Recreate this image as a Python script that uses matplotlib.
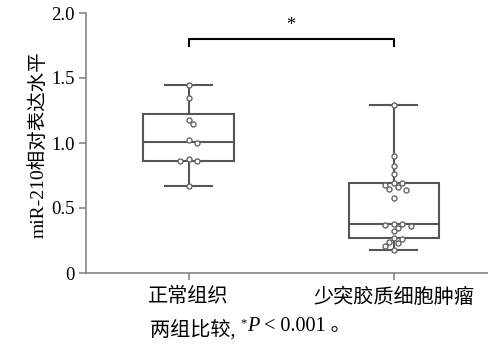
import matplotlib
matplotlib.use("Agg")
import matplotlib.pyplot as plt
import numpy as np

plt.rcParams['font.family'] = ['Liberation Serif', 'Noto Sans CJK SC']

categories = ["正常组织", "少突胶质细胞肿瘤"]
normal_vals = [1.45, 1.35, 1.18, 1.15, 1.02, 1.00, 0.88, 0.86, 0.86, 0.67]
tumor_vals = [1.29, 0.90, 0.82, 0.76, 0.69, 0.69, 0.68, 0.66, 0.65, 0.64, 0.58,
              0.38, 0.38, 0.37, 0.36, 0.35, 0.32, 0.27, 0.26, 0.24, 0.23, 0.21, 0.18]
yticks = [0, 0.5, 1.0, 1.5, 2.0]
yticklabels = ["0", "0.5", "1.0", "1.5", "2.0"]
ylabel = "miR-210相对表达水平"
sig_label = "*"

groups = [normal_vals, tumor_vals]

W, H, DPI = 4.88, 3.47, 100
fig = plt.figure(figsize=(W, H), dpi=DPI)
ax = fig.add_axes([86/488, 1-273/347, 1-86/488, (273-13)/347])

xlim = (-0.5, 1.46)
ylim = (0, 2.0)
ax.set_xlim(*xlim)
ax.set_ylim(*ylim)

# box stats (SPSS-style weighted quantiles)
stats = []
for vals, lab in zip(groups, categories):
    a = np.array(vals)
    q1, med, q3 = np.percentile(a, [25, 50, 75], method='weibull')
    stats.append(dict(med=med, q1=q1, q3=q3, whislo=a.min(), whishi=a.max(),
                      fliers=[], label=lab))

gray = "#555555"
ax.bxp(stats, positions=[0, 1], widths=0.44, capwidths=0.23, patch_artist=True,
       boxprops=dict(facecolor='white', edgecolor=gray, linewidth=1.5),
       medianprops=dict(color=gray, linewidth=1.5),
       whiskerprops=dict(color=gray, linewidth=1.5),
       capprops=dict(color=gray, linewidth=1.5),
       showfliers=False, zorder=2)

# simple swarm placement in pixel space
ax_w_px = W * DPI * (1 - 86/488)
ax_h_px = (273 - 13)
px_x = (xlim[1] - xlim[0]) / ax_w_px
px_y = (ylim[1] - ylim[0]) / ax_h_px
sep = 5.0
for pos, vals in enumerate(groups):
    placed = []
    for v in vals:
        cands = [0]
        for i in range(1, 20):
            cands += [i, -i]
        for c in cands:
            xo = c * sep * 0.85
            ok = True
            for (px, py) in placed:
                dy = (v - py) / px_y
                if (xo - px) ** 2 + dy ** 2 < sep ** 2:
                    ok = False
                    break
            if ok:
                placed.append((xo, v))
                break
    xs = [pos + p[0] * px_x for p in placed]
    ys = [p[1] for p in placed]
    ax.scatter(xs, ys, s=13, facecolors='white', edgecolors='#666666',
               linewidths=1.0, zorder=3)

# significance bracket
ax.plot([0, 0, 1, 1], [1.75, 1.80, 1.80, 1.75], color='black', lw=1.5,
        clip_on=False, zorder=4)
ax.text(0.5, 1.84, sig_label, ha='center', va='bottom', fontsize=13)

ax.set_yticks(yticks)
ax.set_yticklabels(yticklabels, fontsize=13.5)
ax.set_xticks([0, 1])
ax.set_xticklabels(categories, fontsize=14.5)

for s in ['top', 'right']:
    ax.spines[s].set_visible(False)
for s in ['left', 'bottom']:
    ax.spines[s].set_color('#888888')
    ax.spines[s].set_linewidth(1.2)
ax.tick_params(axis='both', colors='#888888', length=5, width=1.2, labelcolor='black')
ax.tick_params(axis='x', pad=6)
ax.tick_params(axis='y', pad=3)

fig.text(38/488, 1-145/347, ylabel, rotation=90, ha='center', va='center', fontsize=14)

# caption
t1 = fig.text(150/488, 1-330/347, "两组比较, ", ha='left', va='center', fontsize=14.5)
t2 = ax.annotate("*", xycoords=t1, xy=(1, 0.55), va='bottom', ha='left', fontsize=9)
t3 = ax.annotate("P", xycoords=t2, xy=(1, 0), xytext=(0, -5), textcoords='offset points',
                 va='bottom', ha='left', fontsize=14.5, style='italic',
                 annotation_clip=False)
t4 = ax.annotate(" < 0.001 。", xycoords=t3, xy=(1, 0), va='bottom', ha='left',
                 fontsize=14.5, annotation_clip=False)

fig.savefig("out.png", dpi=DPI)
